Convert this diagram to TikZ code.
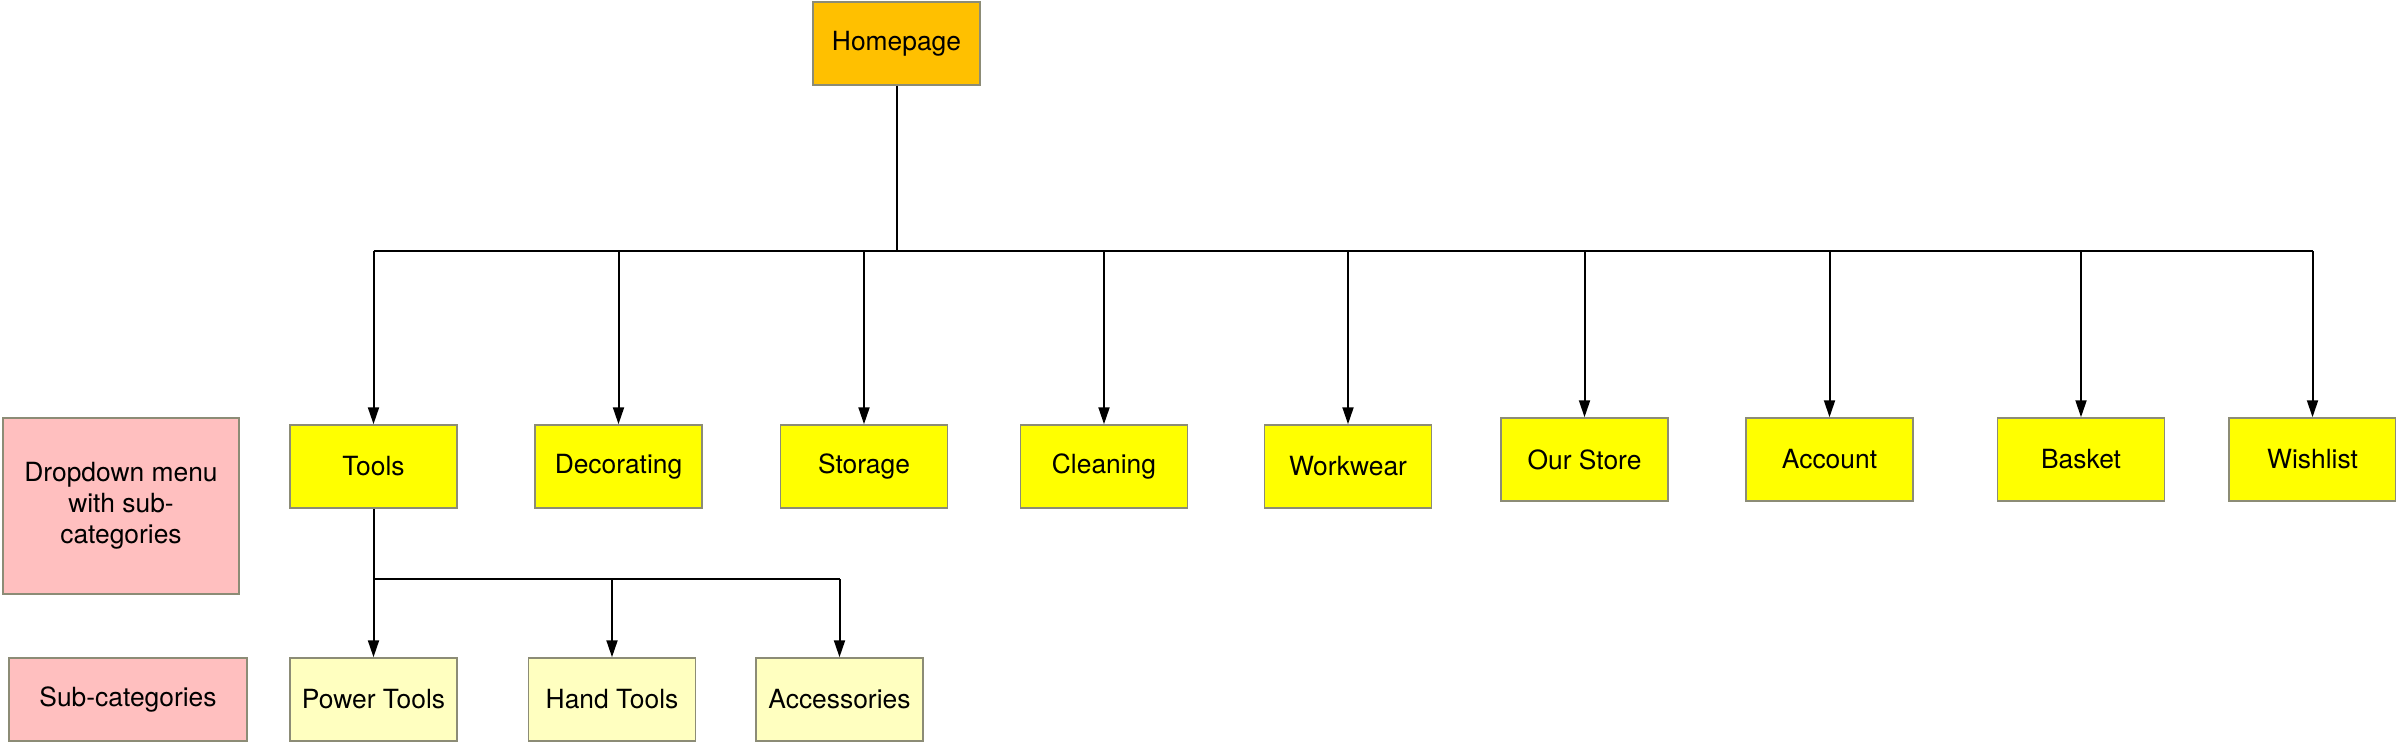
\documentclass[tikz,border=0pt]{standalone}
\usepackage{fontspec}
\setmainfont{TeX Gyre Heros}
\usetikzlibrary{arrows.meta}
\definecolor{bordergray}{RGB}{140,140,118}
\definecolor{catyellow}{RGB}{255,255,0}
\definecolor{homeorange}{RGB}{255,192,0}
\definecolor{notepink}{RGB}{255,191,191}
\definecolor{subyellow}{RGB}{255,255,192}
\tikzset{
  basebox/.style={draw=bordergray, line width=0.75pt, inner sep=0pt, align=center,
    font=\fontsize{13.2pt}{15.5pt}\selectfont, text=black},
  catbox/.style={basebox, fill=catyellow, minimum width=83.5pt, minimum height=41.5pt},
  homebox/.style={basebox, fill=homeorange, minimum width=83.5pt, minimum height=41.5pt},
  subbox/.style={basebox, fill=subyellow, minimum width=83.5pt, minimum height=41.5pt},
  notebox/.style={basebox, fill=notepink},
  conn/.style={line width=1pt, draw=black},
  arr/.style={conn, -{Triangle[length=8.5pt,width=5.5pt]}}
}
\begin{document}
\begin{tikzpicture}[x=0.5pt,y=-0.5pt]
\useasboundingbox (0,0) rectangle (2396,743);
% top
\node[homebox] (home) at (896.5,43.5) {Homepage};
% categories
\node[catbox] (tools) at (373.5,466.5) {Tools};
\node[catbox] (deco)  at (618.5,466.5) {Decorating};
\node[catbox] (stor)  at (864,466.5) {Storage};
\node[catbox] (clean) at (1104,466.5) {Cleaning};
\node[catbox] (work)  at (1348,466.5) {Workwear};
\node[catbox] (store) at (1584.5,459.5) {Our Store};
\node[catbox] (acct)  at (1829.5,459.5) {Account};
\node[catbox] (bask)  at (2081,459.5) {Basket};
\node[catbox] (wish)  at (2312.5,459.5) {Wishlist};
% sub-categories
\node[subbox] (power) at (373.5,699.5) {Power Tools};
\node[subbox] (hand)  at (612,699.5) {Hand Tools};
\node[subbox] (acc)   at (839.5,699.5) {Accessories};
% legend
\node[notebox, minimum width=118pt, minimum height=88pt] (ddnote) at (121,506) {Dropdown menu\\with sub-\\categories};
\node[notebox, minimum width=119pt, minimum height=41.5pt] (subnote) at (128,699.5) {Sub-categories};
% main bus
\coordinate (bus) at (896.5,251);
\draw[conn] (home.south) -- (bus);
\draw[conn] (tools.north |- bus) -- (wish.north |- bus);
\foreach \n in {tools,deco,stor,clean,work,store,acct,bask,wish}
  \draw[arr] (\n.north |- bus) -- (\n.north);
% sub bus
\coordinate (sbus) at (373.5,579);
\draw[conn] (tools.south) -- (sbus);
\draw[conn] (sbus) -- (acc.north |- sbus);
\foreach \n in {power,hand,acc}
  \draw[arr] (\n.north |- sbus) -- (\n.north);
\end{tikzpicture}
\end{document}
